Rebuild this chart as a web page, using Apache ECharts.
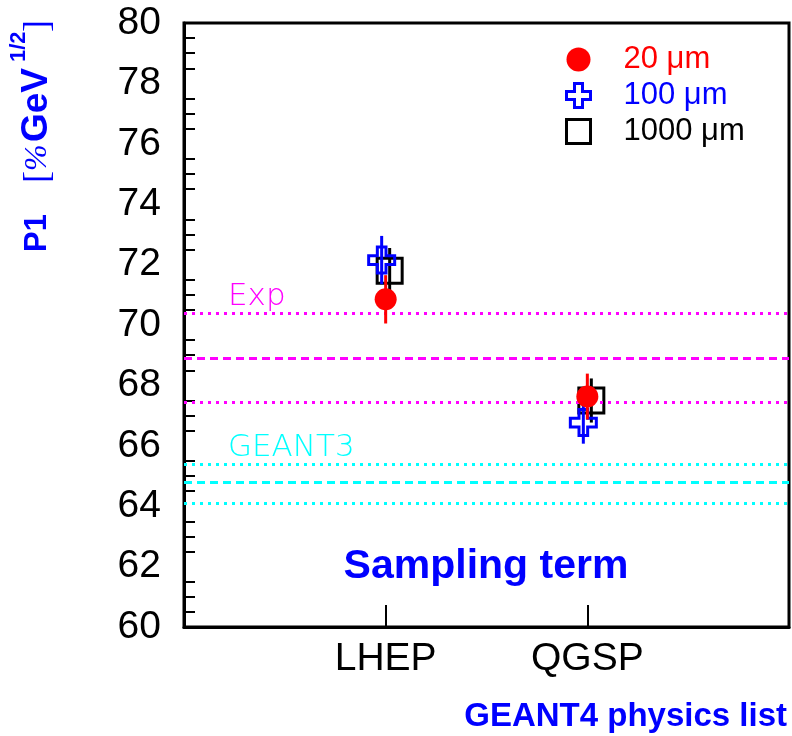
<!DOCTYPE html>
<html>
<head>
<meta charset="utf-8">
<script src="https://cdn.jsdelivr.net/npm/echarts@6/dist/echarts.min.js"></script>
<style>
  html, body { margin: 0; padding: 0; background: #fff; }
  #main { width: 792px; height: 736px; }
</style>
</head>
<body>
<div id="main"></div>
<script>
// physics lists on the x axis
var categories = ['LHEP', 'QGSP'];
var seriesNames = ['20 \u03bcm', '100 \u03bcm', '1000 \u03bcm'];
// P1 values and errors, one entry per physics list
var p1_20 = [70.85, 67.63];
var err_20 = [0.8, 0.76];
var p1_100 = [72.15, 66.77];
var err_100 = [0.8, 0.7];
var p1_1000 = [71.8, 67.5];
var err_1000 = [0.75, 0.73];
// reference bands: lower, central, upper
var expBand = [67.45, 68.9, 70.4];
var geant3Band = [64.1, 64.8, 65.4];
var yTicks = { min: 60, max: 80, step: 2 };

var crossPath = 'path://M1,0H2V1H3V2H2V3H1V2H0V1H1Z';
var chart = echarts.init(document.getElementById('main'));

// x axis has an empty slot on each side so the lists sit at 1/3 and 2/3
var xData = [''].concat(categories, ['']);

function points(vals) {
    return vals.map(function (v, i) { return [i + 1, v]; });
}

function errorBars(vals, errs, color, dx, z) {
    return {
        type: 'custom',
        silent: true,
        z: z,
        data: vals.map(function (v, i) { return [i + 1, v - errs[i], v + errs[i]]; }),
        renderItem: function (params, api) {
            var lo = api.coord([api.value(0), api.value(1)]);
            var hi = api.coord([api.value(0), api.value(2)]);
            return {
                type: 'line',
                shape: { x1: lo[0] + dx, y1: lo[1], x2: hi[0] + dx, y2: hi[1] },
                style: { stroke: color, lineWidth: 3 }
            };
        }
    };
}

function bandLines(band, color, label) {
    var dotted = { type: [3, 5], width: 3, color: color, cap: 'butt' };
    var dashed = { type: [8, 5], width: 3, color: color, cap: 'butt' };
    return {
        silent: true,
        symbol: 'none',
        animation: false,
        data: [
            { yAxis: band[0], lineStyle: dotted, label: { show: false } },
            { yAxis: band[1], lineStyle: dashed, label: { show: false } },
            {
                yAxis: band[2], lineStyle: dotted,
                label: {
                    show: true, formatter: label, position: 'insideStartTop',
                    distance: [44, 0], color: color,
                    fontFamily: 'DejaVu Sans', fontWeight: 200, fontSize: 31
                }
            }
        ]
    };
}

var option = {
    animation: false,
    grid: {
        left: 184, right: 3, top: 23, bottom: 109,
        show: true, borderColor: '#000', borderWidth: 3, backgroundColor: 'transparent'
    },
    xAxis: {
        type: 'category',
        data: xData,
        boundaryGap: false,
        axisLine: { lineStyle: { color: '#000', width: 3 } },
        axisTick: {
            inside: true, length: 22, lineStyle: { color: '#000', width: 2 },
            interval: function (idx, val) { return val !== ''; }
        },
        axisLabel: {
            margin: 13, color: '#000', fontFamily: 'Liberation Sans', fontSize: 39,
            interval: 0
        },
        splitLine: { show: false }
    },
    yAxis: {
        type: 'value',
        min: yTicks.min, max: yTicks.max, interval: yTicks.step,
        axisLine: { show: true, lineStyle: { color: '#000', width: 3 } },
        axisTick: { inside: true, length: 22, lineStyle: { color: '#000', width: 2 } },
        minorTick: { show: true, splitNumber: 4, length: 11, lineStyle: { color: '#000', width: 2 } },
        axisLabel: { margin: 23, color: '#000', fontFamily: 'Liberation Sans', fontSize: 39 },
        splitLine: { show: false }
    },
    legend: {
        orient: 'vertical',
        left: 559, top: 39,
        itemWidth: 24, itemHeight: 24, itemGap: 5,
        selectedMode: false,
        formatter: function (name) { return '{g|}' + name; },
        textStyle: { fontFamily: 'Liberation Sans', fontSize: 31, rich: { g: { width: 28 } } },
        data: [
            { name: seriesNames[0], textStyle: { color: '#ff0000' } },
            { name: seriesNames[1], textStyle: { color: '#0000ff' }, itemStyle: { borderWidth: 3 } },
            { name: seriesNames[2], textStyle: { color: '#000' }, itemStyle: { borderWidth: 3 } }
        ]
    },
    graphic: [
        {
            type: 'text', x: 486, y: 567,
            style: {
                text: 'Sampling term', fill: '#0000ff', align: 'center', verticalAlign: 'middle',
                font: 'bold 41px "Liberation Sans"'
            }
        },
        {
            type: 'text', x: 787, y: 717,
            style: {
                text: 'GEANT4 physics list', fill: '#0000ff', align: 'right', verticalAlign: 'middle',
                font: 'bold 33px "Liberation Sans"'
            }
        },
        {
            // rotated y title, local x runs up the page
            type: 'group', x: 37, y: 252, rotation: Math.PI / 2,
            children: [
                { type: 'text', x: 0, y: 0, style: { text: 'P1', fill: '#0000ff', verticalAlign: 'middle', font: 'bold 31px "Liberation Sans"' } },
                { type: 'text', x: 69, y: 2, style: { text: '[', fill: '#0000ff', verticalAlign: 'middle', font: '36px "Liberation Serif"' } },
                { type: 'text', x: 81, y: 1, style: { text: '%', fill: '#0000ff', verticalAlign: 'middle', font: 'italic 32px "Liberation Serif"' } },
                { type: 'text', x: 110, y: 0, style: { text: 'GeV', fill: '#0000ff', verticalAlign: 'middle', font: 'bold 37px "Liberation Sans"' } },
                { type: 'text', x: 190, y: -18, style: { text: '1/2', fill: '#0000ff', verticalAlign: 'middle', font: 'bold 22px "Liberation Sans"' } },
                { type: 'text', x: 220, y: 2, style: { text: ']', fill: '#0000ff', verticalAlign: 'middle', font: '36px "Liberation Serif"' } }
            ]
        }
    ],
    series: [
        errorBars(p1_1000, err_1000, '#000', 4, 2),
        {
            name: seriesNames[2], type: 'scatter', z: 3,
            data: points(p1_1000),
            symbol: 'rect', symbolSize: 25, symbolOffset: [4, 0],
            itemStyle: { color: 'none', borderColor: '#000', borderWidth: 3, opacity: 1 }
        },
        errorBars(p1_100, err_100, '#0000ff', -4, 4),
        {
            name: seriesNames[1], type: 'scatter', z: 5,
            data: points(p1_100),
            symbol: crossPath, symbolSize: 26, symbolOffset: [-4, 0],
            itemStyle: { color: 'none', borderColor: '#0000ff', borderWidth: 3, opacity: 1 }
        },
        errorBars(p1_20, err_20, '#ff0000', 0, 6),
        {
            name: seriesNames[0], type: 'scatter', z: 7,
            data: points(p1_20),
            symbol: 'circle', symbolSize: 22,
            itemStyle: { color: '#ff0000', opacity: 1 },
            markLine: bandLines(expBand, '#ff00ff', 'Exp')
        },
        {
            name: 'geant3', type: 'scatter', data: [],
            markLine: bandLines(geant3Band, '#00ffff', 'GEANT3')
        }
    ]
};

chart.setOption(option);
</script>
</body>
</html>
